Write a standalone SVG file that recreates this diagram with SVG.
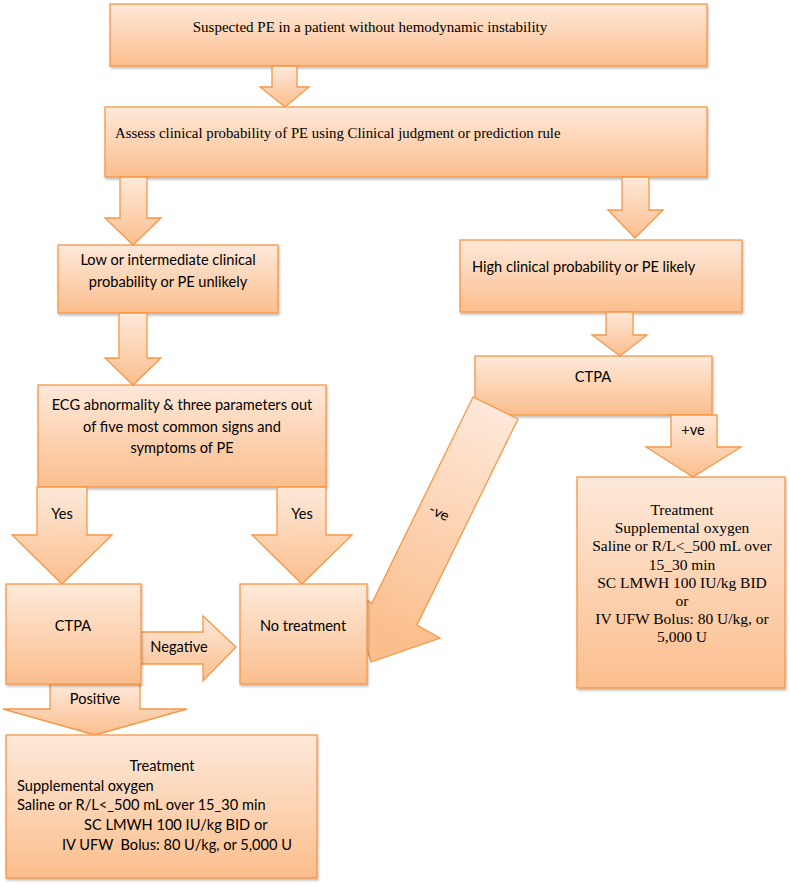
<svg xmlns="http://www.w3.org/2000/svg" width="790" height="887" viewBox="0 0 790 887">
<defs>
<linearGradient id="g" x1="0" y1="0" x2="0" y2="1">
<stop offset="0" stop-color="#FEE9DA"/>
<stop offset="1" stop-color="#FBBE8D"/>
</linearGradient>
<linearGradient id="gv" gradientUnits="userSpaceOnUse" x1="495" y1="405" x2="395" y2="640">
<stop offset="0" stop-color="#FEE9DA"/>
<stop offset="1" stop-color="#FBBE8D"/>
</linearGradient>
<filter id="sh" x="-10%" y="-10%" width="120%" height="130%">
<feDropShadow dx="1" dy="2" stdDeviation="1.2" flood-color="#000" flood-opacity="0.25"/>
</filter>
<style>
.b{fill:url(#g);stroke:#F79646;stroke-width:1.3;filter:url(#sh)}
.a{fill:url(#g);stroke:#F79646;stroke-width:1.3}
.s{font-family:"Liberation Serif","Times New Roman",serif;font-size:15.5px;fill:#000}
.c{font-family:Lato,"Liberation Sans",sans-serif;font-size:14.6px;fill:#000}
.m{text-anchor:middle}
</style>
</defs>
<rect width="790" height="887" fill="#fff"/>

<g id="n1"><rect class="b" x="110" y="4" width="597" height="62"/>
<text class="s m" x="370" y="32" style="font-size:15px">Suspected PE in a patient without hemodynamic instability</text></g>

<g id="n2"><rect class="b" x="105" y="107" width="602" height="70"/>
<text class="s" x="115" y="138" style="font-size:14.8px">Assess clinical probability of PE using Clinical judgment or prediction rule</text></g>

<g id="n3"><rect class="b" x="58" y="245" width="220" height="68"/>
<text class="c m" x="168" y="265">Low or intermediate clinical</text>
<text class="c m" x="168" y="287">probability or PE unlikely</text></g>

<g id="n4"><rect class="b" x="460" y="240" width="282" height="72"/>
<text class="c" x="472" y="272">High clinical probability or PE likely</text></g>

<g id="n5"><rect class="b" x="38" y="385" width="288" height="102"/>
<text class="c m" x="182" y="410">ECG abnormality &amp; three parameters out</text>
<text class="c m" x="182" y="432">of five most common signs and</text>
<text class="c m" x="182" y="453">symptoms of PE</text></g>

<g id="n6"><rect class="b" x="475" y="356" width="237" height="59"/>
<text class="c m" x="593" y="382">CTPA</text></g>

<g id="n9"><rect class="b" x="577" y="477" width="208" height="211"/>
<text class="s m" x="682" y="515">Treatment</text>
<text class="s m" x="682" y="533">Supplemental oxygen</text>
<text class="s m" x="682" y="551">Saline or R/L&lt;_500 mL over</text>
<text class="s m" x="682" y="570">15_30 min</text>
<text class="s m" x="682" y="588">SC LMWH 100 IU/kg BID</text>
<text class="s m" x="682" y="606">or</text>
<text class="s m" x="682" y="624">IV UFW Bolus: 80 U/kg, or</text>
<text class="s m" x="682" y="642">5,000 U</text></g>

<g id="connectors">
<polygon class="a" points="272,66 297,66 297,87 309,87 285,107 260,87 272,87"/>
<polygon class="a" points="120,177 147,177 147,218 161,218 133,245 105,218 120,218"/>
<polygon class="a" points="622,177 649,177 649,210 663,210 635,238 608,210 622,210"/>
<polygon class="a" points="119,313 147,313 147,358 161,358 133,385 105,358 119,358"/>
<polygon class="a" points="606,312 633,312 633,335 647,335 620,356 592,335 606,335"/>
<polygon class="a" points="671,415 717,415 717,447 741,447 693,477 646,447 671,447"/>
<text class="c m" x="693" y="435">+ve</text>
<polygon class="a" points="37,487 87,487 87,535 112,535 62,584 12,535 37,535"/>
<text class="c m" x="62" y="519">Yes</text>
<polygon class="a" points="277,487 326,487 326,535 352,535 302,584 252,535 277,535"/>
<text class="c m" x="302" y="519">Yes</text>
<polygon class="a" style="fill:url(#gv)" points="473,397 518,419 417,625 440,638 371,662 349,590 372,603"/>
<text class="c m" transform="translate(437,517) rotate(26)">-ve</text>
<polygon class="a" points="141,632 203,632 203,616 236,647 203,681 203,664 141,664"/>
<text class="c m" x="179" y="652">Negative</text>
<polygon class="a" points="50,684 140,684 140,709 187,709 95,735 3,709 50,709"/>
<text class="c m" x="95" y="704">Positive</text>
</g>

<g id="n7"><rect class="b" x="6" y="584" width="135" height="100"/>
<text class="c m" x="73" y="631">CTPA</text></g>

<g id="n8"><rect class="b" x="240" y="584" width="127" height="100"/>
<text class="c m" x="303" y="631">No treatment</text></g>

<g id="n10"><rect class="b" x="6" y="735" width="311" height="143"/>
<text class="c m" x="162" y="771">Treatment</text>
<text class="c" x="17" y="791">Supplemental oxygen</text>
<text class="c" x="17" y="810">Saline or R/L&lt;_500 mL over 15_30 min</text>
<text class="c" x="84" y="830">SC LMWH 100 IU/kg BID or</text>
<text class="c" x="62" y="850" xml:space="preserve">IV UFW  Bolus: 80 U/kg, or 5,000 U</text></g>
</svg>
